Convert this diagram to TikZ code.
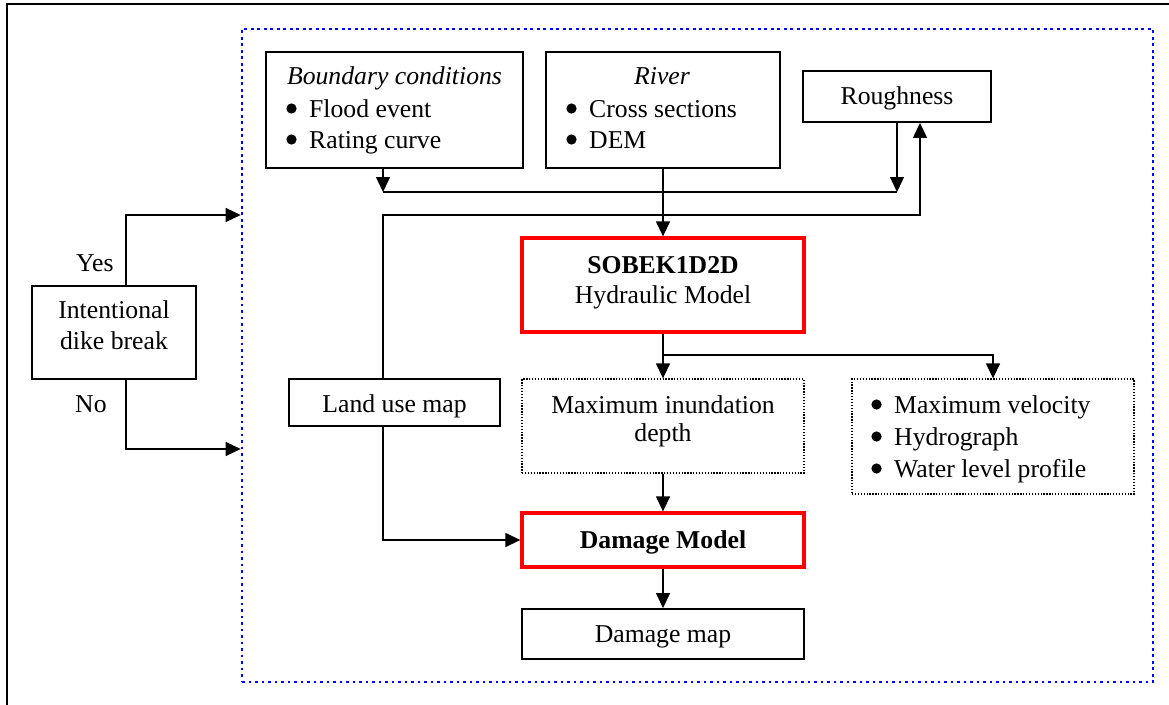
\documentclass[tikz,border=0pt]{standalone}
\usepackage{fontspec}
\setmainfont{Liberation Serif}
\usetikzlibrary{arrows.meta}
\newcommand\bodyfs{\fontsize{25.7}{30}\selectfont}

\begin{document}
\begin{tikzpicture}[x=1pt,y=-1pt,
  box/.style={draw=black, line width=1.9pt, inner sep=0pt, rectangle},
  redbox/.style={draw=red, line width=3.3pt, inner sep=0pt, rectangle},
  dotbox/.style={draw=black, line width=1.3pt, dash pattern=on 1.3pt off 1.6pt, inner sep=0pt, rectangle},
  txt/.style={inner sep=0pt, font=\bodyfs},
  arr/.style={line width=1.4pt, -{Triangle[length=15pt,width=14pt]}},
  link/.style={line width=1.4pt},
  bul/.style={fill=black},
]
\useasboundingbox (0,0) rectangle (1169,704);

% sheet frame, running off the right and bottom edges
\draw[line width=2pt] (1190,4) -- (7,4) -- (7,720);

% dotted blue frame around the model chain
\node[draw=blue, line width=2.6pt, dash pattern=on 2.6pt off 3.9pt,
      minimum width=911pt, minimum height=653pt, inner sep=0pt] (frame) at (697.5,355.5) {};

% boxes
\node[box, minimum width=257pt, minimum height=116pt] (bc) at (394.5,110) {};
\node[box, minimum width=234pt, minimum height=116pt] (river) at (663,110) {};
\node[box, minimum width=188pt, minimum height=51pt] (rough) at (897,96.5) {};
\node[redbox, minimum width=282pt, minimum height=94pt] (sobek) at (663,285) {};
\node[box, minimum width=164pt, minimum height=93pt] (intent) at (114,332.5) {};
\node[box, minimum width=211pt, minimum height=47pt] (landuse) at (394.5,402.5) {};
\node[dotbox, minimum width=282pt, minimum height=94pt] (maxd) at (663,426) {};
\node[dotbox, minimum width=282pt, minimum height=115pt] (res) at (993,436.5) {};
\node[redbox, minimum width=282pt, minimum height=54pt] (damage) at (663,540) {};
\node[box, minimum width=282pt, minimum height=50pt] (dmap) at (663,634) {};

% texts
\node[txt, anchor=base, font=\bodyfs\itshape] (bc-h) at (394.5,84) {Boundary conditions};
\node[txt, anchor=base west] (bc-1) at (309,117) {Flood event};
\node[txt, anchor=base west] (bc-2) at (309,148) {Rating curve};
\fill[bul] (291.5,108.5) circle (5.1);
\fill[bul] (291.5,139.5) circle (5.1);

\node[txt, anchor=base, font=\bodyfs\itshape] (river-h) at (662,84) {River};
\node[txt, anchor=base west] (river-1) at (589,117) {Cross sections};
\node[txt, anchor=base west] (river-2) at (589,148) {DEM};
\fill[bul] (571.5,108.5) circle (5.1);
\fill[bul] (571.5,139.5) circle (5.1);

\node[txt, anchor=base] (rough-t) at (897,104) {Roughness};

\node[txt, anchor=base, font=\bodyfs\bfseries] (sobek-1) at (663,273) {SOBEK1D2D};
\node[txt, anchor=base] (sobek-2) at (663,303) {Hydraulic Model};

\node[txt, anchor=base] (intent-1) at (114,318) {Intentional};
\node[txt, anchor=base] (intent-2) at (114,349) {dike break};
\node[txt, anchor=base west] (yes-t) at (76,271) {Yes};
\node[txt, anchor=base west] (no-t) at (75,412) {No};

\node[txt, anchor=base] (landuse-t) at (394.5,412) {Land use map};

\node[txt, anchor=base] (maxd-1) at (663,413) {Maximum inundation};
\node[txt, anchor=base] (maxd-2) at (663,441) {depth};

\node[txt, anchor=base west] (res-1) at (894,413) {Maximum velocity};
\node[txt, anchor=base west] (res-2) at (894,445) {Hydrograph};
\node[txt, anchor=base west] (res-3) at (894,477) {Water level profile};
\fill[bul] (876.5,404.5) circle (5.1);
\fill[bul] (876.5,436.5) circle (5.1);
\fill[bul] (876.5,468.5) circle (5.1);

\node[txt, anchor=base, font=\bodyfs\bfseries] (damage-t) at (663,548) {Damage Model};
\node[txt, anchor=base] (dmap-t) at (663,642) {Damage map};

% junction points of the connectors
\coordinate (jL) at (383,192);
\coordinate (jR) at (897,192);
\coordinate (lu) at (383,215);
\coordinate (fb) at (920,215);
\coordinate (yes) at (126,215);
\coordinate (no) at (126,449);
\coordinate (br) at (663,355);

% connectors
\draw[arr] (bc.south -| jL) -- (jL);
\draw[link] (jL) -- (jR);
\draw[arr] (rough.south) -- (jR);
\draw[arr] (river.south) -- (sobek.north);
\draw[arr] (landuse.north -| lu) -- (lu) -- (fb) -- (rough.south -| fb);
\draw[arr] (intent.north -| yes) -- (yes) -- (yes -| frame.west);
\draw[arr] (intent.south -| yes) -- (no) -- (no -| frame.west);
\draw[arr] (sobek.south) -- (maxd.north);
\draw[arr] (br) -- (br -| res.north) -- (res.north);
\draw[arr] (maxd.south) -- (damage.north);
\draw[arr] (landuse.south -| lu) |- (damage.west);
\draw[arr] (damage.south) -- (dmap.north);
\end{tikzpicture}
\end{document}
